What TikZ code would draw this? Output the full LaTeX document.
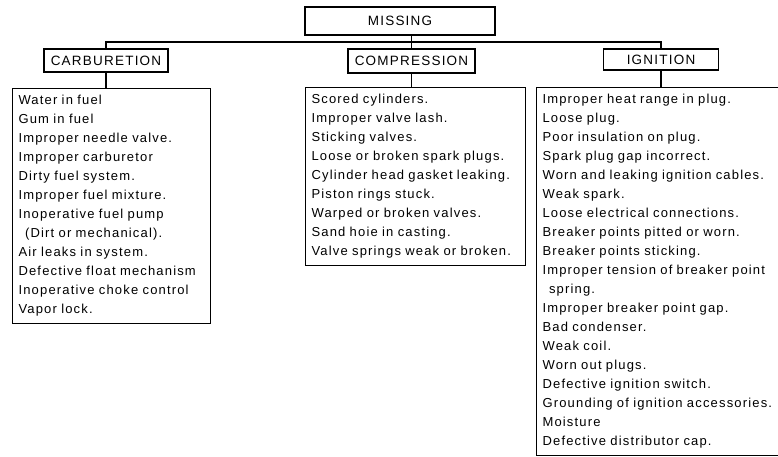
\documentclass[tikz,border=0pt]{standalone}
\usepackage{fontspec}
\setmainfont{Liberation Sans}[LetterSpace=9]

\begin{document}
\begin{tikzpicture}[x=1pt, y=-1pt,
  font=\fontsize{13}{19}\selectfont,
  head/.style={draw, line width=1.1pt, inner sep=0pt, font=\fontsize{13.5}{16}\selectfont},
  list/.style={draw, line width=1.1pt, anchor=north west, align=left,
    inner xsep=6pt, inner ysep=7pt},
  link/.style={line width=1.2pt}]

\useasboundingbox (0,0) rectangle (778,456);

\node[head, minimum width=190pt, minimum height=28pt] (missing) at (400,21) {MISSING};

\node[head, minimum width=124pt, minimum height=23pt] (carb) at (106,60.5) {CARBURETION};
\node[head, minimum width=127pt, minimum height=24pt] (comp) at (411.5,61) {COMPRESSION};
\node[head, minimum width=115pt, minimum height=21pt] (ign) at (661,59.5) {IGNITION};

\node[list, text width=186pt] (carblist) at (12,88) {%
Water in fuel\\
Gum in fuel\\
Improper needle valve.\\
Improper carburetor\\
Dirty fuel system.\\
Improper fuel mixture.\\
Inoperative fuel pump\\
\hspace*{0.5em}(Dirt or mechanical).\\
Air leaks in system.\\
Defective float mechanism\\
Inoperative choke control\\
Vapor lock.};

\node[list, text width=208pt] (complist) at (305,87) {%
Scored cylinders.\\
Improper valve lash.\\
Sticking valves.\\
Loose or broken spark plugs.\\
Cylinder head gasket leaking.\\
Piston rings stuck.\\
Warped or broken valves.\\
Sand hoie in casting.\\
Valve springs weak or broken.};

\node[list, text width=262pt] (ignlist) at (536,87) {%
Improper heat range in plug.\\
Loose plug.\\
Poor insulation on plug.\\
Spark plug gap incorrect.\\
Worn and leaking ignition cables.\\
Weak spark.\\
Loose electrical connections.\\
Breaker points pitted or worn.\\
Breaker points sticking.\\
Improper tension of breaker point\\
\hspace*{0.5em}spring.\\
Improper breaker point gap.\\
Bad condenser.\\
Weak coil.\\
Worn out plugs.\\
Defective ignition switch.\\
Grounding of ignition accessories.\\
Moisture\\
Defective distributor cap.};

% bus from MISSING
\coordinate (bus) at (0,42);
\draw[link] (carb.north) -- (carb.north |- bus) -- (ign.north |- bus) -- (ign.north);
\draw[link] (comp.north) -- (comp.north |- missing.south);

% header to list
\draw[link] (carb.south) -- (carb.south |- carblist.north);
\draw[link] (comp.south) -- (comp.south |- complist.north);
\draw[link] (ign.south) -- (ign.south |- ignlist.north);

\end{tikzpicture}
\end{document}
